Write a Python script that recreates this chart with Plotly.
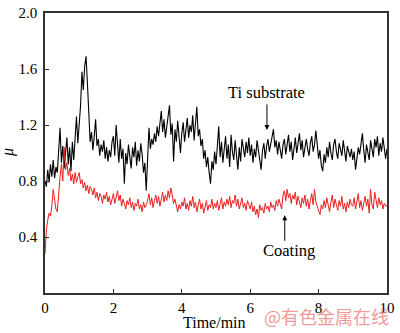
import numpy as np
import plotly.graph_objects as go

# Friction coefficient samples, one every 0.04 min from 0 to 10 min
SAMPLE_STEP = 0.04

ti_substrate = [
    # 0-1 min
    0.80, 0.76, 0.88, 0.79, 0.92, 0.83, 0.95, 0.82, 0.90, 0.86, 1.02, 1.18, 0.93,
    1.05, 0.89, 0.98, 1.11, 0.92, 1.04, 0.87, 1.08, 0.95, 1.14, 1.26, 1.07,
    # 1-2 min
    1.18, 1.34, 1.58, 1.45, 1.62, 1.69, 1.50, 1.22, 1.08, 1.15, 1.02, 1.12, 1.24,
    1.05, 1.10, 0.98, 1.06, 1.01, 1.09, 0.96, 1.04, 0.94, 1.02, 0.97, 1.08,
    # 2-3 min
    1.12, 0.98, 1.20, 1.05, 0.93, 1.10, 0.96, 1.03, 0.78, 1.00, 0.92, 1.06, 0.95,
    0.89, 1.04, 0.97, 1.08, 0.91, 1.02, 0.94, 1.07, 0.99, 0.86, 0.93, 0.73,
    # 3-4 min
    0.95, 1.18, 1.03, 1.10, 1.06, 1.14, 1.08, 1.19, 1.12, 1.22, 1.30, 1.15, 1.24,
    1.11, 1.20, 1.26, 1.34, 1.13, 1.21, 0.94, 1.17, 1.08, 1.23, 1.12, 1.00,
    # 4-5 min
    1.14, 1.22, 1.08, 1.18, 1.25, 1.11, 1.20, 1.15, 1.27, 1.09, 1.19, 1.33, 1.12,
    1.17, 1.05, 1.10, 0.96, 1.02, 0.90, 0.97, 0.86, 0.78, 0.94, 0.88, 1.01,
    # 5-6 min
    0.92, 1.05, 1.19, 0.97, 1.08, 0.93, 1.03, 1.12, 0.96, 1.06, 0.90, 1.13, 1.01,
    0.95, 1.09, 0.99, 0.88, 1.04, 0.94, 1.10, 1.02, 0.97, 1.08, 1.00, 1.11,
    # 6-7 min
    0.98, 1.06, 0.93, 1.03, 0.97, 1.09, 1.00, 0.95, 0.88, 1.02, 1.07, 0.96, 1.05,
    1.10, 1.01, 1.06, 1.12, 1.17, 1.04, 1.09, 0.99, 1.08, 1.02, 0.96, 1.06,
    # 7-8 min
    1.10, 0.99, 1.07, 1.13, 1.01, 1.08, 0.95, 1.04, 1.11, 1.00, 1.06, 1.14, 1.02,
    1.09, 0.97, 1.05, 1.10, 1.03, 0.98, 1.07, 1.12, 1.01, 1.06, 1.16, 1.04,
    # 8-9 min
    0.96, 1.02, 0.91, 0.87, 0.99, 0.93, 1.04, 0.97, 1.08, 1.00, 0.95, 1.06, 1.10,
    1.01, 0.96, 1.07, 1.03, 0.98, 1.09, 1.02, 0.94, 1.05, 1.00, 0.97, 1.03,
    # 9-10 min
    0.95, 1.01, 0.88, 0.96, 1.04, 0.99, 1.08, 1.14, 1.02, 0.93, 1.06, 1.00, 0.95,
    1.09, 1.03, 0.97, 1.10, 1.04, 1.12, 0.98, 1.07, 1.01, 1.11, 1.05, 0.96, 1.03,
]

coating = [
    # 0-1 min
    0.28, 0.45, 0.52, 0.57, 0.55, 0.62, 0.74, 0.66, 0.60, 0.58, 0.72, 0.83, 0.92,
    0.80, 1.04, 0.88, 0.93, 0.84, 0.89, 0.80, 0.85, 0.78, 0.86, 0.79, 0.83,
    # 1-2 min
    0.86, 0.78, 0.81, 0.75, 0.79, 0.73, 0.77, 0.71, 0.76, 0.74, 0.70, 0.75, 0.68,
    0.72, 0.66, 0.71, 0.69, 0.64, 0.70, 0.67, 0.72, 0.65, 0.69, 0.63, 0.68,
    # 2-3 min
    0.71, 0.64, 0.68, 0.73, 0.66, 0.70, 0.62, 0.67, 0.64, 0.60, 0.66, 0.63, 0.68,
    0.61, 0.65, 0.59, 0.64, 0.62, 0.67, 0.60, 0.63, 0.58, 0.65, 0.61, 0.63,
    # 3-4 min
    0.66, 0.71, 0.63, 0.68, 0.61, 0.66, 0.70, 0.64, 0.69, 0.62, 0.67, 0.72, 0.65,
    0.70, 0.66, 0.73, 0.68, 0.75, 0.70, 0.64, 0.67, 0.61, 0.58, 0.63, 0.60,
    # 4-5 min
    0.65, 0.62, 0.68, 0.60, 0.64, 0.59, 0.66, 0.62, 0.69, 0.61, 0.65, 0.58, 0.63,
    0.67, 0.60, 0.64, 0.57, 0.62, 0.66, 0.59, 0.63, 0.61, 0.67, 0.60, 0.64,
    # 5-6 min
    0.61, 0.66, 0.59, 0.64, 0.68, 0.60, 0.65, 0.62, 0.67, 0.63, 0.69, 0.61, 0.66,
    0.64, 0.70, 0.62, 0.67, 0.60, 0.65, 0.68, 0.61, 0.64, 0.59, 0.66, 0.63,
    # 6-7 min
    0.60, 0.65, 0.58, 0.62, 0.56, 0.60, 0.54, 0.63, 0.59, 0.61, 0.57, 0.64, 0.60,
    0.62, 0.58, 0.65, 0.61, 0.63, 0.59, 0.66, 0.62, 0.67, 0.64, 0.60, 0.70,
    # 7-8 min
    0.73, 0.66, 0.74, 0.68, 0.71, 0.64, 0.70, 0.67, 0.72, 0.63, 0.69, 0.65, 0.61,
    0.68, 0.64, 0.70, 0.62, 0.67, 0.60, 0.66, 0.71, 0.63, 0.74, 0.65, 0.62,
    # 8-9 min
    0.59, 0.56, 0.63, 0.60, 0.66, 0.61, 0.68, 0.62, 0.58, 0.65, 0.70, 0.61, 0.67,
    0.63, 0.59, 0.66, 0.62, 0.69, 0.60, 0.64, 0.58, 0.65, 0.61, 0.67, 0.63,
    # 9-10 min
    0.62, 0.68, 0.60, 0.65, 0.71, 0.61, 0.66, 0.59, 0.64, 0.69, 0.62, 0.67, 0.57,
    0.74, 0.63, 0.60, 0.72, 0.65, 0.61, 0.68, 0.63, 0.66, 0.60, 0.64, 0.62, 0.63,
]

x_ticks = [0, 2, 4, 6, 8, 10]
y_ticks = [0.4, 0.8, 1.2, 1.6, 2.0]
y_tick_text = ["0.4", "0.8", "1.2", "1.6", "2.0"]

time_black = np.arange(len(ti_substrate)) * SAMPLE_STEP
time_red = np.arange(len(coating)) * SAMPLE_STEP

SERIF = "Liberation Serif, Times New Roman, serif"
AXIS_COLOR = "#333333"

fig = go.Figure()
fig.add_trace(go.Scatter(x=time_black, y=ti_substrate, mode="lines",
                         line=dict(color="black", width=1.1), name="Ti substrate",
                         showlegend=False))
fig.add_trace(go.Scatter(x=time_red, y=coating, mode="lines",
                         line=dict(color="#e8201e", width=1), name="Coating",
                         showlegend=False))

axis_common = dict(showgrid=False, zeroline=False, showline=True, mirror=True,
                   linecolor=AXIS_COLOR, linewidth=1.5, ticks="inside",
                   ticklen=4, tickwidth=1, tickcolor=AXIS_COLOR,
                   ticklabeloverflow="allow",
                   tickfont=dict(family=SERIF, size=15, color="black"))

fig.update_xaxes(range=[0, 10], tickvals=x_ticks, ticktext=[str(v) for v in x_ticks],
                 **axis_common)
fig.update_yaxes(range=[0, 2.0], tickvals=y_ticks, ticktext=y_tick_text,
                 ticklabelstandoff=3, **axis_common)

# Series labels with pointer arrows
fig.add_annotation(x=6.49, y=1.165, ax=0, ay=-27, xref="x", yref="y",
                   axref="pixel", ayref="pixel", text="", showarrow=True,
                   arrowhead=2, arrowsize=1, arrowwidth=1, arrowcolor="black")
fig.add_annotation(x=6.49, y=1.43, xref="x", yref="y", text="Ti substrate",
                   xanchor="center", yanchor="middle", showarrow=False,
                   font=dict(family=SERIF, size=16.5, color="black"))
fig.add_annotation(x=7.01, y=0.555, ax=0, ay=27, xref="x", yref="y",
                   axref="pixel", ayref="pixel", text="", showarrow=True,
                   arrowhead=2, arrowsize=1, arrowwidth=1, arrowcolor="black")
fig.add_annotation(x=7.13, y=0.305, xref="x", yref="y", text="Coating",
                   xanchor="center", yanchor="middle", showarrow=False,
                   font=dict(family=SERIF, size=16.5, color="black"))

# Axis titles
fig.add_annotation(x=0.497, y=-0.106, xref="paper", yref="paper", text="Time/min",
                   xanchor="center", yanchor="middle", showarrow=False,
                   font=dict(family=SERIF, size=16, color="black"))
fig.add_annotation(x=-0.108, y=0.5, xref="paper", yref="paper", text="<i>μ</i>",
                   xanchor="center", yanchor="middle", textangle=-90, showarrow=False,
                   font=dict(family=SERIF, size=16, color="black"))

# Source mark
fig.add_annotation(x=0.822, y=-0.082, xref="paper", yref="paper", text="@有色金属在线",
                   xanchor="center", yanchor="middle", showarrow=False,
                   font=dict(family="Noto Sans CJK SC", size=18,
                             color="rgba(235,120,120,0.75)"))

fig.update_layout(width=400, height=333,
                  margin=dict(l=45, r=8, t=5, b=40),
                  paper_bgcolor="white", plot_bgcolor="white")

fig.write_html("out.html")
